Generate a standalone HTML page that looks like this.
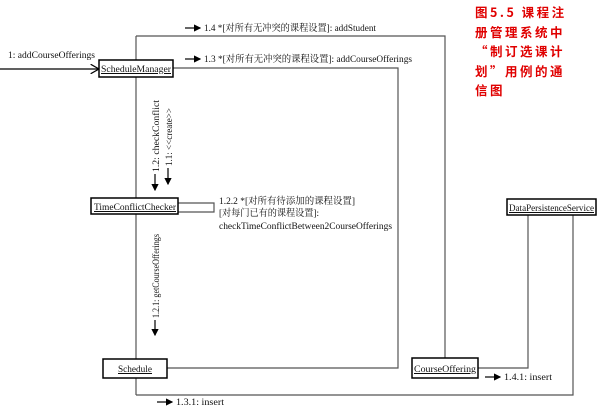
<!DOCTYPE html>
<html><head><meta charset="utf-8"><style>
body{margin:0;background:#fff;}
svg text{font-family:"Liberation Serif","Noto Serif CJK SC",serif;font-size:9.5px;fill:#111;}
.t{position:absolute;left:475px;top:2px;width:130px;font:bold 12.5px/19.5px "Noto Sans CJK SC",sans-serif;color:#e00000;letter-spacing:2.5px;white-space:nowrap}
</style></head><body>
<div style="position:relative;width:609px;height:411px;overflow:hidden">
<svg width="609" height="411" style="position:absolute;left:0;top:0">
<defs><marker id="a" markerWidth="6" markerHeight="6" refX="5" refY="3" orient="auto"><path d="M0,0L6,3L0,6z" fill="#000"/></marker>
<marker id="o" markerWidth="8" markerHeight="8" refX="7" refY="4" orient="auto"><path d="M0,0L7,4L0,8" fill="none" stroke="#000"/></marker></defs>
<g stroke="#555" fill="none" stroke-width="1.2">
<line x1="136" y1="36" x2="136" y2="395"/>
<polyline points="136,36 445,36 445,358"/>
<polyline points="173,68 398,68 398,368 167,368"/>
<polyline points="178,203 214,203 214,212 178,212"/>
<polyline points="478,368 528,368 528,214"/>
<polyline points="573,214 573,395 136,395"/>
<line x1="0" y1="69" x2="99" y2="69" stroke="#000" marker-end="url(#o)"/>
</g>
<g fill="#fff" stroke="#000" stroke-width="1.5">
<rect x="99" y="60" width="74" height="17"/>
<rect x="91" y="198" width="87" height="16"/>
<rect x="103" y="359" width="64" height="19"/>
<rect x="412" y="358" width="66" height="20"/>
<rect x="507" y="199" width="89" height="16"/>
</g>
<g text-decoration="underline">
<text x="101" y="72" textLength="70" lengthAdjust="spacingAndGlyphs">ScheduleManager</text>
<text x="94" y="210" textLength="82" lengthAdjust="spacingAndGlyphs">TimeConflictChecker</text>
<text x="118" y="372" textLength="34" lengthAdjust="spacingAndGlyphs">Schedule</text>
<text x="414" y="372" textLength="62" lengthAdjust="spacingAndGlyphs">CourseOffering</text>
<text x="509" y="211" textLength="85" lengthAdjust="spacingAndGlyphs">DataPersistenceService</text>
</g>
<g stroke="#000" stroke-width="1.2">
<line x1="185" y1="28" x2="200" y2="28" marker-end="url(#a)"/>
<line x1="185" y1="59" x2="200" y2="59" marker-end="url(#a)"/>
<line x1="155" y1="174" x2="155" y2="190" marker-end="url(#a)"/>
<line x1="168" y1="168" x2="168" y2="184" marker-end="url(#a)"/>
<line x1="155" y1="320" x2="155" y2="335" marker-end="url(#a)"/>
<line x1="485" y1="377" x2="500" y2="377" marker-end="url(#a)"/>
<line x1="157" y1="402" x2="172" y2="402" marker-end="url(#a)"/>
</g>
<text x="204" y="31" textLength="172" lengthAdjust="spacingAndGlyphs">1.4 *[对所有无冲突的课程设置]: addStudent</text>
<text x="204" y="62" textLength="208" lengthAdjust="spacingAndGlyphs">1.3 *[对所有无冲突的课程设置]: addCourseOfferings</text>
<text x="8" y="58" textLength="87" lengthAdjust="spacingAndGlyphs">1: addCourseOfferings</text>
<text transform="translate(159,172) rotate(-90)" textLength="72" lengthAdjust="spacingAndGlyphs">1.2: checkConflict</text>
<text transform="translate(172,166) rotate(-90)" textLength="58" lengthAdjust="spacingAndGlyphs">1.1: &lt;&lt;create&gt;&gt;</text>
<text transform="translate(159,318) rotate(-90)" textLength="84" lengthAdjust="spacingAndGlyphs">1.2.1: getCourseOfferings</text>
<text x="219" y="204" textLength="136" lengthAdjust="spacingAndGlyphs">1.2.2 *[对所有待添加的课程设置]</text>
<text x="219" y="216" textLength="100" lengthAdjust="spacingAndGlyphs">[对每门已有的课程设置]:</text>
<text x="219" y="229" textLength="173" lengthAdjust="spacingAndGlyphs">checkTimeConflictBetween2CourseOfferings</text>
<text x="504" y="380" textLength="48" lengthAdjust="spacingAndGlyphs">1.4.1: insert</text>
<text x="176" y="405" textLength="48" lengthAdjust="spacingAndGlyphs">1.3.1: insert</text>
</svg>
<div class="t">图5.5 课程注<br>册管理系统中<br>“制订选课计<br>划”用例的通<br>信图</div>
</div>
</body></html>
